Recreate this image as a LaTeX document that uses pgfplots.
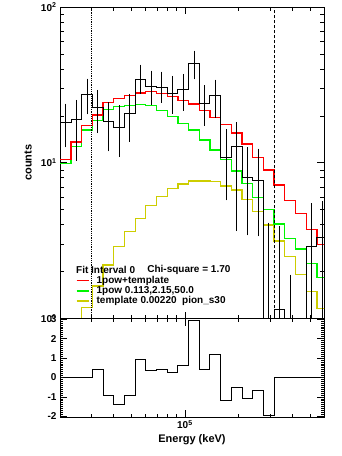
\documentclass[border=0pt]{standalone}
\usepackage{fontspec}
\setmainfont{Liberation Sans}
\usepackage{pgfplots}
\usepackage{pgfplotstable}
\pgfplotsset{compat=1.18}

\definecolor{fitred}{RGB}{255,0,0}
\definecolor{fitgreen}{RGB}{0,245,0}
\definecolor{fityellow}{RGB}{205,205,0}

% bin lower edges (keV), observed counts, models, residuals
\pgfplotstableread{
E         data   red    green  templ  res
2.0091e4  18.18  10.52  9.92   0.60   0
2.3058e4  19.01  13.60  12.75  0.85   0
2.6458e4  27.63  17.41  16.23  1.18   0
3.0366e4  22.57  20.30  18.68  1.62   0.40
3.4847e4  18.35  24.25  22.04  2.21  -0.94
3.9994e4  16.96  25.93  23.04  2.89  -1.41
4.5899e4  20.56  27.03  23.42  3.61  -0.94
5.2664e4  34.34  27.99  23.59  4.40   0.93
6.0437e4  30.87  28.61  23.31  5.30   0.38
6.9358e4  30.41  27.72  21.65  6.07   0.43
7.9616e4  28.04  26.60  19.75  6.85   0.26
9.1366e4  29.32  25.22  17.92  7.30   0.62
1.0486e5  43.50  23.86  16.23  7.63   2.94
1.2033e5  24.01  21.65  14.00  7.65   0.41
1.3808e5  27.03  19.62  12.07  7.55   1.17
1.5849e5  10.73  17.58  10.49  7.09  -1.20
1.8186e5  12.68  15.53  8.85   6.68  -0.53
2.0867e5  8.07   13.21  7.38   5.83  -1.07
2.3950e5  7.75   10.83  5.98   4.85  -0.67
2.7490e5  0.5    8.99   5.01   3.98  -1.96
3.1550e5  1.15   7.19   4.04   3.15   0
3.6207e5  0.5    5.75   3.26   2.49   0
4.1553e5  0.5    4.71   2.79   1.92   0
4.7689e5  2.92   3.74   2.25   1.49   0
5.4725e5  3.29   3.00   1.84   1.16   0
6.2810e5  3.29   3.00   1.84   1.16   0
}\spectrum

% bin centres with error bars
\pgfplotstableread{
Ec        y      ep    em
2.1521e4  18.18  5.07  5.24
2.4700e4  19.01  5.54  8.44
2.8342e4  27.63  6.00  6.55
3.2528e4  22.57  5.90  6.58
3.7328e4  18.35  5.38  6.15
4.2842e4  16.96  5.74  5.75
4.9167e4  20.56  6.27  6.56
5.6414e4  34.34  7.04  5.87
6.4740e4  30.87  7.10  6.68
7.4296e4  30.41  7.00  5.49
8.5285e4  28.04  6.97  6.86
9.7871e4  29.32  6.74  7.18
1.1233e5  43.50  7.38  8.13
1.2890e5  24.01  6.49  6.27
1.4791e5  27.03  6.11  7.07
1.6977e5  10.73  5.26  4.82
1.9481e5  12.68  4.98  8.93
2.2353e5  8.07   4.18  4.55
2.5655e5  7.75   4.20  4.28
2.9447e5  0.5    3.51  0.45
3.3796e5  1.15   2.64  1.10
3.8785e5  0.5    1.36  0.45
5.1085e5  2.92   2.43  2.85
5.8621e5  3.29   2.22  3.20
}\errs

\begin{document}
\begin{tikzpicture}
\useasboundingbox (0,0) rectangle (342pt,456pt);
\begin{axis}[
  scale only axis, width=264pt, height=311.5pt,
  at={(60pt,137.5pt)}, anchor=south west,
  xmode=log, xmin=2e4, xmax=6e5,
  xtick={1e5},
  minor xtick={3e4,4e4,5e4,6e4,7e4,8e4,9e4,2e5,3e5,4e5,5e5},
  xticklabel style={text opacity=0},
  ymode=log, ymin=1, ymax=100,
  ytick={1,10,100},
  yticklabels={10\textsuperscript{0},10\textsuperscript{1},10\textsuperscript{2}},
  minor ytick={2,3,4,5,6,7,8,9,20,30,40,50,60,70,80,90},
  tick align=inside,
  major tick length=7pt, minor tick length=4pt,
  axis line style={line width=0.8pt},
  every tick/.append style={black, line width=0.7pt},
  ticklabel style={font=\bfseries\fontsize{10}{12}\selectfont},
  ylabel={counts},
  ylabel style={font=\bfseries\fontsize{11}{13}\selectfont, at={(axis description cs:-0.121,0.5)}, anchor=center},
]
\addplot[const plot, fityellow, line width=1.3pt] table[x=E, y=templ]{\spectrum};
\addplot[const plot, fitgreen, line width=1.3pt] table[x=E, y=green]{\spectrum};
\addplot[const plot, fitred, line width=1.3pt] table[x=E, y=red]{\spectrum};
\addplot[const plot, black, line width=1pt] table[x=E, y=data]{\spectrum};
\addplot[draw=none, mark=none,
  error bars/.cd, y dir=both, y explicit,
  error bar style={draw=black, line width=0.9pt},
  error mark options={draw=black, mark size=2pt, line width=0.9pt}]
  table[x=Ec, y=y, y error plus=ep, y error minus=em]{\errs};
\addplot[black, line width=0.8pt, densely dotted] coordinates {(3.0e4,1) (3.0e4,100)};
\addplot[black, line width=0.8pt, dash pattern=on 3pt off 2pt] coordinates {(3.155e5,1) (3.155e5,100)};
\node[font=\bfseries\fontsize{10}{12}\selectfont, inner sep=0pt, anchor=west] at (rel axis cs:0.0606,0.1573) {Fit Interval 0};
\node[font=\bfseries\fontsize{10}{12}\selectfont, inner sep=0pt, anchor=west] at (rel axis cs:0.330,0.1573) {Chi-square = 1.70};
\draw[fitred, line width=1.3pt] (rel axis cs:0.0625,0.122) -- (rel axis cs:0.108,0.122);
\node[font=\bfseries\fontsize{10}{12}\selectfont, inner sep=0pt, anchor=west] at (rel axis cs:0.138,0.122) {1pow+template};
\draw[fitgreen, line width=1.3pt] (rel axis cs:0.0625,0.0883) -- (rel axis cs:0.108,0.0883);
\node[font=\bfseries\fontsize{10}{12}\selectfont, inner sep=0pt, anchor=west] at (rel axis cs:0.138,0.0883) {1pow 0.113,2.15,50.0};
\draw[fityellow, line width=1.3pt] (rel axis cs:0.0625,0.0562) -- (rel axis cs:0.108,0.0562);
\node[font=\bfseries\fontsize{10}{12}\selectfont, inner sep=0pt, anchor=west] at (rel axis cs:0.138,0.0562) {template 0.00220\ \ pion\_s30};
\end{axis}

\begin{axis}[
  scale only axis, width=264pt, height=98.5pt,
  at={(60pt,39pt)}, anchor=south west,
  xmode=log, xmin=2e4, xmax=6e5,
  xtick={1e5},
  minor xtick={3e4,4e4,5e4,6e4,7e4,8e4,9e4,2e5,3e5,4e5,5e5},
  xticklabels={10\textsuperscript{5}},
  ymin=-2.03, ymax=3.03,
  ytick={-2,-1,0,1,2,3},
  yticklabels={-2,-1,0,1,2,3},
  minor y tick num=9,
  tick align=inside,
  major tick length=7pt, minor tick length=3pt,
  axis line style={line width=0.8pt},
  every tick/.append style={black, line width=0.7pt},
  ticklabel style={font=\bfseries\fontsize{10}{12}\selectfont},
  xlabel={Energy (keV)},
  xlabel style={font=\bfseries\fontsize{11}{13}\selectfont, at={(axis description cs:0.5,-0.2335)}, anchor=center},
]
\addplot[const plot, black, line width=1pt] table[x=E, y=res]{\spectrum};
\end{axis}
\end{tikzpicture}
\end{document}
